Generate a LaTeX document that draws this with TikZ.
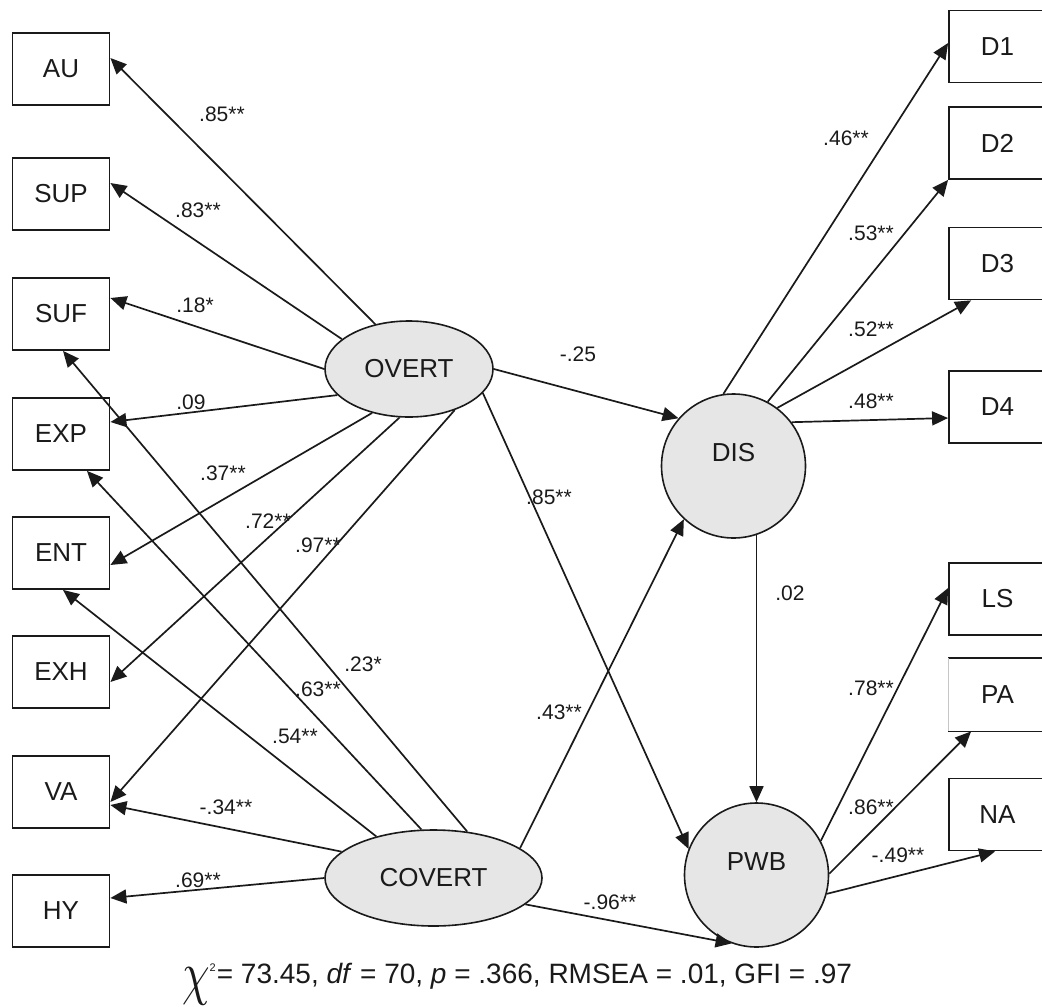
\documentclass[tikz,border=0pt]{standalone}
\usepackage{fontspec}
\setmainfont{Liberation Sans}
\usetikzlibrary{arrows.meta,shapes.geometric}
\definecolor{latfill}{HTML}{E6E6E6}
\definecolor{ink}{HTML}{1A1A1A}
\begin{document}
\begin{tikzpicture}[x=1pt,y=-1pt,
  obs/.style={draw=ink, line width=1.8pt, rectangle, minimum width=97pt, minimum height=72pt, inner sep=0pt, text=ink, font=\fontsize{26}{30}\selectfont},
  lat/.style={draw=ink, line width=1.6pt, ellipse, fill=latfill, inner sep=0pt, minimum height=96pt, text=ink, font=\fontsize{26}{30}\selectfont},
  fac/.style={draw=ink, line width=1.6pt, circle, fill=latfill, minimum size=144pt, inner sep=0pt, text=ink, font=\fontsize{26}{30}\selectfont},
  arr/.style={draw=ink, line width=1.7pt, -{Triangle[length=16pt,width=14pt]}},
  lab/.style={inner sep=0pt, text=ink, font=\fontsize{21}{24}\selectfont},
  boxline/.style={draw=ink, line width=1.8pt}
]
\useasboundingbox (0,0) rectangle (1042,1007);
% observed (left)
\node[obs] (AU)  at (61,69)  {AU};
\node[obs] (SUP) at (61,194) {SUP};
\node[obs] (SUF) at (61,314) {SUF};
\node[obs] (EXP) at (61,434) {EXP};
\node[obs] (ENT) at (61,553) {ENT};
\node[obs] (EXH) at (61,672) {EXH};
\node[obs] (VA)  at (61,792) {VA};
\node[obs] (HY)  at (61,911) {HY};
% observed (right)
\node[obs] (D1) at (997.5,46.5) {D1};
\node[obs] (D2) at (997.5,143) {D2};
\node[obs] (D3) at (997.5,263.5) {D3};
\node[obs] (D4) at (997.5,407) {D4};
\node[obs] (LS) at (997.5,599) {LS};
\node[obs, draw=none] (PA) at (997.5,694.5) {PA};
\draw[boxline] (PA.north west) -- (PA.north east);
\draw[boxline] (PA.south west) -- (PA.south east);
\draw[gray!45, line width=0.6pt] (PA.north west) -- (PA.south west);
\node[obs] (NA) at (997.5,814.5) {NA};
% latent
\node[lat, minimum width=168pt] (OVERT) at (409,369) {OVERT};
\node[lat, minimum width=217pt] (COVERT) at (433.5,878) {COVERT};
\node[fac] (DIS) at (733.5,466) {\raisebox{5pt}[0pt][0pt]{DIS}};
\node[fac] (PWB) at (756.5,875) {\raisebox{5pt}[0pt][0pt]{PWB}};
% OVERT paths
\draw[arr] (OVERT.127) -- ([yshift=11pt]AU.east);
\draw[arr] (OVERT.156) -- ([yshift=11pt]SUP.east);
\draw[arr] (OVERT.180) -- ([yshift=16pt]SUF.east);
\draw[arr] (OVERT.200) -- ([yshift=12pt]EXP.east);
\draw[arr] (OVERT.230) -- ([yshift=-12pt]ENT.east);
\draw[arr] (OVERT.259) -- ([yshift=-10pt]EXH.east);
\draw[arr] (OVERT.318) -- ([yshift=-10pt]VA.east);
\draw[arr] (OVERT.342) -- (PWB.159);
\draw[arr] (OVERT.0) -- (DIS.139);
% COVERT paths
\draw[arr] (COVERT.54) -- ([xshift=2pt]SUF.south);
\draw[arr] (COVERT.104) -- ([xshift=26pt]EXP.south);
\draw[arr] (COVERT.144) -- ([xshift=2pt]ENT.south);
\draw[arr] (COVERT.164.5) -- ([yshift=-13pt]VA.east);
\draw[arr] (COVERT.180) -- ([yshift=13pt]HY.east);
\draw[arr] (COVERT.19) -- (DIS.227);
\draw[arr] (COVERT.344.5) -- (PWB.250);
% DIS paths
\draw[arr] (DIS.98) -- ([yshift=3.5pt]D1.west);
\draw[arr] (DIS.62) -- (D2.south west);
\draw[arr] (DIS.53) -- ([xshift=23pt]D3.south west);
\draw[arr] (DIS.37) -- ([yshift=-11pt]D4.west);
\draw[arr] (DIS.289 -| PWB.north) -- (PWB.north);
% PWB paths
\draw[arr] (PWB.28) -- ([yshift=11pt]LS.west);
\draw[arr] (PWB.1) -- ([xshift=23pt]PA.south west);
\draw[arr] (PWB.345) -- ([xshift=47pt]NA.south west);
% labels
\node[lab] (l1) at (222,114) {.85**};
\node[lab] (l2) at (198,210) {.83**};
\node[lab] (l3) at (195,305) {.18*};
\node[lab] (l4) at (191,402) {.09};
\node[lab] (l5) at (223,473) {.37**};
\node[lab] (l6) at (268,521) {.72**};
\node[lab] (l7) at (318,545) {.97**};
\node[lab] (l8) at (363,664) {.23*};
\node[lab] (l9) at (318,689) {.63**};
\node[lab] (l10) at (295,736) {.54**};
\node[lab] (l11) at (226,807) {-.34**};
\node[lab] (l12) at (198,880) {.69**};
\node[lab] (l13) at (578,354) {-.25};
\node[lab] (l14) at (549,497) {.85**};
\node[lab] (l15) at (846,138) {.46**};
\node[lab] (l16) at (871,233) {.53**};
\node[lab] (l17) at (871,329) {.52**};
\node[lab] (l18) at (871,401) {.48**};
\node[lab] (l19) at (790,593) {.02};
\node[lab] (l20) at (559,712) {.43**};
\node[lab] (l21) at (871,688) {.78**};
\node[lab] (l22) at (871,807) {.86**};
\node[lab] (l23) at (898,855) {-.49**};
\node[lab] (l24) at (610,902) {-.96**};
% fit
\node[anchor=base west, inner sep=0pt, text=ink, font=\fontsize{28}{30}\selectfont] (fit) at (182,983)
  {\raisebox{-10pt}{\scalebox{4.4}[6]{\fontsize{10}{12}\selectfont$\chi$}}\raisebox{12pt}{\fontsize{11}{12}\selectfont 2}\hspace{1pt}= 73.45, \textit{df} = 70, \textit{p} = .366, RMSEA = .01, GFI = .97};
\end{tikzpicture}
\end{document}
